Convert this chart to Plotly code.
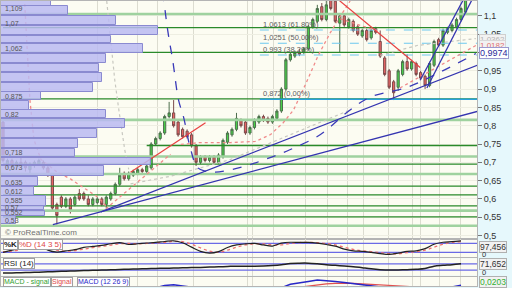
import plotly.graph_objects as go

# ---------------- data ----------------
idx = list(range(104))
opens = [0.81, 0.695, 0.705, 0.69, 0.70, 0.70, 0.68, 0.695, 0.695, 0.70,
         0.685, 0.665, 0.585, 0.605, 0.58, 0.60, 0.585, 0.615, 0.615, 0.60,
         0.585, 0.59, 0.60, 0.585, 0.60, 0.615, 0.64, 0.67, 0.655, 0.665,
         0.67, 0.68, 0.675, 0.685, 0.75, 0.765, 0.78, 0.825, 0.835, 0.81,
         0.79, 0.785, 0.775, 0.745, 0.70, 0.715, 0.705, 0.715, 0.70, 0.715,
         0.755, 0.775, 0.79, 0.815, 0.81, 0.78, 0.795, 0.81, 0.825, 0.82,
         0.81, 0.82, 0.84, 0.90, 0.98, 0.99, 1.0, 1.0, 1.01, 1.07,
         1.085, 1.125, 1.09, 1.15, 1.14, 1.08, 1.10, 1.07, 1.085, 1.07,
         1.045, 1.06, 1.04, 1.065, 1.03, 0.985, 0.95, 0.92, 0.905, 0.94,
         0.975, 0.955, 0.97, 0.945, 0.935, 0.91, 0.965, 1.035, 1.02, 1.055,
         1.06, 1.07, 1.09, 1.11]
highs = [0.82, 0.71, 0.71, 0.705, 0.712, 0.705, 0.70, 0.705, 0.71, 0.705,
         0.69, 0.67, 0.59, 0.61, 0.605, 0.605, 0.61, 0.627, 0.62, 0.61,
         0.605, 0.605, 0.605, 0.61, 0.62, 0.645, 0.685, 0.675, 0.675, 0.68,
         0.685, 0.685, 0.695, 0.755, 0.77, 0.785, 0.83, 0.865, 0.87, 0.815,
         0.795, 0.79, 0.78, 0.75, 0.72, 0.72, 0.72, 0.72, 0.725, 0.765,
         0.785, 0.795, 0.835, 0.82, 0.815, 0.80, 0.82, 0.83, 0.83, 0.825,
         0.83, 0.845, 0.905, 0.985, 1.0, 1.005, 1.01, 1.015, 1.075, 1.095,
         1.13, 1.135, 1.15, 1.16, 1.15, 1.105, 1.105, 1.095, 1.09, 1.075,
         1.065, 1.065, 1.065, 1.07, 1.06, 0.99, 0.955, 0.925, 0.955, 0.98,
         0.995, 0.98, 0.975, 0.95, 0.94, 0.975, 1.035, 1.04, 1.065, 1.07,
         1.08, 1.095, 1.125, 1.16]
lows = [0.70, 0.685, 0.685, 0.68, 0.69, 0.675, 0.665, 0.685, 0.69, 0.68,
        0.66, 0.565, 0.53, 0.575, 0.575, 0.56, 0.58, 0.595, 0.595, 0.58,
        0.58, 0.585, 0.58, 0.575, 0.595, 0.61, 0.635, 0.65, 0.65, 0.66,
        0.665, 0.67, 0.67, 0.68, 0.745, 0.76, 0.775, 0.82, 0.795, 0.77,
        0.765, 0.765, 0.74, 0.69, 0.695, 0.70, 0.70, 0.695, 0.695, 0.71,
        0.75, 0.77, 0.785, 0.795, 0.775, 0.775, 0.79, 0.805, 0.81, 0.805,
        0.805, 0.815, 0.835, 0.895, 0.975, 0.985, 0.99, 0.995, 1.005, 1.065,
        1.08, 1.085, 1.085, 1.115, 1.08, 1.0, 1.07, 1.065, 1.055, 1.045,
        1.04, 1.03, 1.035, 1.05, 0.985, 0.935, 0.90, 0.87, 0.895, 0.935,
        0.95, 0.95, 0.935, 0.925, 0.90, 0.905, 0.96, 1.015, 1.015, 1.05,
        1.055, 1.065, 1.085, 1.105]
closes = [0.705, 0.705, 0.69, 0.70, 0.695, 0.685, 0.695, 0.70, 0.705, 0.685,
          0.665, 0.575, 0.555, 0.58, 0.60, 0.57, 0.605, 0.60, 0.60, 0.585,
          0.60, 0.60, 0.585, 0.605, 0.615, 0.64, 0.665, 0.655, 0.67, 0.675,
          0.68, 0.675, 0.69, 0.75, 0.765, 0.78, 0.825, 0.835, 0.80, 0.775,
          0.77, 0.77, 0.745, 0.70, 0.715, 0.705, 0.715, 0.70, 0.72, 0.76,
          0.78, 0.79, 0.82, 0.80, 0.78, 0.795, 0.815, 0.825, 0.815, 0.81,
          0.825, 0.84, 0.90, 0.98, 0.995, 1.0, 0.995, 1.01, 1.07, 1.09,
          1.12, 1.09, 1.13, 1.12, 1.085, 1.10, 1.075, 1.09, 1.06, 1.05,
          1.06, 1.035, 1.06, 1.055, 0.99, 0.94, 0.905, 0.89, 0.95, 0.975,
          0.955, 0.975, 0.94, 0.93, 0.91, 0.97, 1.03, 1.02, 1.06, 1.065,
          1.075, 1.09, 1.12, 1.15]

# volume-by-price profile (bin edges in price, volume per bin)
vp_edges = [1.14, 1.127, 1.100, 1.073, 1.046, 1.024, 0.997, 0.970, 0.946,
            0.919, 0.892, 0.868, 0.843, 0.819, 0.792, 0.765, 0.738, 0.714,
            0.692, 0.662, 0.635, 0.608, 0.581, 0.568, 0.554, 0.532]
vp_volume = [50, 67, 115, 157, 110, 142, 105, 98, 101, 92, 40, 28, 105, 124,
             96, 77, 74, 150, 103, 37, 33, 45, 43, 44, 15]
vp_label_text = ["1,109", "1,07", "1,062", "0,875", "0,82", "0,718", "0,673",
                 "0,635", "0,612", "0,585", "0,57", "0,552", "0,53"]
vp_label_price = [1.119, 1.078, 1.011, 0.881, 0.830, 0.727, 0.686, 0.646,
                  0.619, 0.595, 0.578, 0.562, 0.541]

# horizontal support / resistance levels
levels_dark = [1.068, 1.0, 0.873, 0.746, 0.695, 0.635, 0.611, 0.581, 0.551]
levels_dark_start = [0, 0, 0, 32, 0, 0, 0, 0, 0]
levels_light = [1.105, 0.816, 0.716, 0.668, 0.568, 0.527]

# fibonacci retracement
fib_levels = [1.0613, 1.0251, 0.993]
fib_labels = ["1,0613 (61,80%)", "1,0251 (50,00%)", "0,993 (38,20%)"]
fib_base = 0.872
fib_base_label = "0,872 (0,00%)"
fib_start = 57.2

# trend lines (anchor points: bar index, price)
trend_blue = [([11.1, 105.6], [0.530, 0.839]),
              ([21.8, 105.6], [0.565, 0.965]),
              ([92.9, 103.3], [0.924, 1.162]),
              ([94.4, 105.2], [0.903, 1.162])]
trend_red = [([74.0, 92.9], [1.151, 0.959]),
             ([28.4, 45.1], [0.673, 0.808])]
red_dotted = [([22.9, 37.3], [0.573, 0.722]),
              ([4.7, 5.56, 6.0, 6.89, 8.44, 11.78, 15.1, 18.4, 21.1, 22.9],
               [1.165, 0.978, 0.870, 0.762, 0.708, 0.676, 0.654, 0.627, 0.605, 0.581]),
              ([39.6, 44.0, 50.7, 56.2, 59.6, 62.4, 64.7, 67.3, 70.2, 72.9, 75.6, 77.3],
               [0.749, 0.754, 0.754, 0.757, 0.776, 0.808, 0.843, 0.911, 0.992, 1.054, 1.108, 1.1405]),
              ([75.1, 83.3], [1.092, 1.059]),
              ([88.4, 105.3], [0.903, 1.019])]
blue_dashed_x = [35.6, 36.7, 37.8, 39.1, 40.2, 41.8, 43.3, 45.1, 47.3, 52.9,
                 58.4, 64.0, 70.7, 77.3, 81.8, 90.0, 97.3, 105.3]
blue_dashed_y = [1.165, 1.059, 0.978, 0.870, 0.824, 0.735, 0.686, 0.676, 0.673,
                 0.686, 0.708, 0.735, 0.776, 0.843, 0.878, 0.905, 0.946, 0.997]
gray_dotted = [([23.1, 24.0, 24.9, 25.8, 27.1, 28.0],
                [1.1405, 1.032, 0.924, 0.843, 0.735, 0.681]),
               ([28.4, 37.3, 50.7, 64.0, 77.3], [0.641, 0.662, 0.708, 0.776, 0.843]),
               ([84.0, 92.2, 105.3], [0.992, 1.019, 1.038])]

# vertical grid positions (bar index)
vgrid = [21.1, 30.0, 34.4, 42.4, 54.4, 55.6, 60.2, 67.3, 72.2, 76.7, 80.2,
         85.8, 91.3, 92.9, 97.3, 101.8]

# oscillators (every second bar)
osc_idx = list(range(0, 104, 2))
stoch_k = [20, 35, 50, 63, 73, 35, 22, 30, 38, 53, 60, 67, 78, 86, 73, 78, 83,
           87, 93, 98, 85, 55, 27, 15, 25, 53, 70, 77, 80, 70, 62, 82, 88, 87,
           87, 82, 73, 62, 42, 30, 27, 20, 12, 7, 15, 27, 30, 45, 75, 88, 92, 97]
stoch_d = [25, 28, 40, 52, 63, 55, 35, 28, 32, 42, 52, 60, 68, 78, 80, 78, 80,
           84, 88, 94, 92, 75, 50, 28, 20, 35, 55, 70, 77, 77, 70, 70, 80, 86,
           87, 85, 80, 70, 55, 40, 30, 25, 18, 12, 10, 18, 25, 35, 55, 75, 87, 93]
rsi = [11, 12, 13, 15, 17, 19, 21, 23, 25, 27, 29, 30, 32, 34, 36, 37, 39, 40,
       42, 43, 45, 46, 47, 49, 51, 53, 55, 55, 55, 56, 59, 64, 72, 74, 74, 70,
       64, 60, 56, 52, 45, 38, 33, 30, 31, 33, 35, 40, 55, 60, 64, 70]
macd = [-0.02, -0.018, -0.015, -0.012, -0.01, -0.015, -0.03, -0.035, -0.033, -0.03,
        -0.025, -0.02, -0.012, 0.0, 0.01, 0.018, 0.025, 0.035, 0.048, 0.052,
        0.045, 0.035, 0.02, 0.008, 0.005, 0.012, 0.02, 0.022, 0.025, 0.026,
        0.027, 0.035, 0.055, 0.065, 0.072, 0.08, 0.078, 0.072, 0.065, 0.055,
        0.048, 0.04, 0.028, 0.015, 0.01, 0.012, 0.01, 0.008, 0.018, 0.03, 0.04, 0.05]
macd_signal = [-0.015, -0.016, -0.016, -0.015, -0.014, -0.014, -0.017, -0.021, -0.024, -0.025,
               -0.025, -0.024, -0.021, -0.017, -0.011, -0.005, 0.002, 0.01, 0.018, 0.026,
               0.031, 0.033, 0.031, 0.026, 0.021, 0.018, 0.018, 0.019, 0.02, 0.021,
               0.022, 0.025, 0.031, 0.038, 0.045, 0.052, 0.057, 0.06, 0.061, 0.06,
               0.058, 0.054, 0.049, 0.042, 0.035, 0.03, 0.026, 0.022, 0.021, 0.023,
               0.027, 0.032]
stoch_bands = [80, 20]
rsi_bands = [70, 30]

# ---------------- figure ----------------
W, H = 512, 288
PW = 477
XR = [-0.444, 105.56]
FONT = "Liberation Sans"

fig = go.Figure()

# volume profile
centers = [(vp_edges[k] + vp_edges[k + 1]) / 2 for k in range(len(vp_volume))]
heights = [(vp_edges[k] - vp_edges[k + 1]) * 0.92 for k in range(len(vp_volume))]
fig.add_trace(go.Bar(x=vp_volume, y=centers, width=heights, orientation="h",
                     xaxis="x2", yaxis="y",
                     marker=dict(color="rgba(186,186,242,0.85)",
                                 line=dict(color="#8a8ad0", width=1)),
                     hoverinfo="skip", showlegend=False))


def hlines(levels, starts=None):
    xs, ys = [], []
    for k, lv in enumerate(levels):
        s = starts[k] if starts else XR[0]
        xs += [s, XR[1], None]
        ys += [lv, lv, None]
    return xs, ys


x, y = hlines(levels_light)
fig.add_trace(go.Scatter(x=x, y=y, mode="lines", line=dict(color="#9fd29f", width=2.6),
                         hoverinfo="skip", showlegend=False))
x, y = hlines(levels_dark, levels_dark_start)
fig.add_trace(go.Scatter(x=x, y=y, mode="lines", line=dict(color="#2a8a2a", width=1.3),
                         hoverinfo="skip", showlegend=False))

# fibonacci
x, y = hlines(fib_levels, [fib_start] * len(fib_levels))
fig.add_trace(go.Scatter(x=x, y=y, mode="lines",
                         line=dict(color="#6cc8f0", width=1.2, dash="dash"),
                         hoverinfo="skip", showlegend=False))
fig.add_trace(go.Scatter(x=[fib_start, XR[1]], y=[fib_base, fib_base], mode="lines",
                         line=dict(color="#2aa0dc", width=1.5),
                         hoverinfo="skip", showlegend=False))

# candles
fig.add_trace(go.Candlestick(x=idx, open=opens, high=highs, low=lows, close=closes,
                             increasing=dict(fillcolor="#48d048", line=dict(color="#4d6e4d", width=1)),
                             decreasing=dict(fillcolor="#ea6464", line=dict(color="#7a4a4a", width=1)),
                             whiskerwidth=0, xaxis="x", yaxis="y",
                             hoverinfo="skip", showlegend=False))

# dotted / dashed indicators
for gx, gy in gray_dotted:
    fig.add_trace(go.Scatter(x=gx, y=gy, mode="lines",
                             line=dict(color="#c8c8c0", width=1.2, dash="dot"),
                             hoverinfo="skip", showlegend=False))
for rx, ry in red_dotted:
    fig.add_trace(go.Scatter(x=rx, y=ry, mode="lines",
                             line=dict(color="#f08a8a", width=1.3, dash="dot"),
                             hoverinfo="skip", showlegend=False))
fig.add_trace(go.Scatter(x=blue_dashed_x, y=blue_dashed_y, mode="lines", line_shape="spline",
                         line=dict(color="#3a3ab8", width=1.3, dash="dash"),
                         hoverinfo="skip", showlegend=False))
for tx, ty in trend_red:
    fig.add_trace(go.Scatter(x=tx, y=ty, mode="lines", line=dict(color="#e84040", width=1.2),
                             hoverinfo="skip", showlegend=False))
for tx, ty in trend_blue:
    fig.add_trace(go.Scatter(x=tx, y=ty, mode="lines", line=dict(color="#3434b0", width=1.3),
                             hoverinfo="skip", showlegend=False))

# stochastic
for b in stoch_bands:
    fig.add_trace(go.Scatter(x=XR, y=[b, b], mode="lines", xaxis="x3", yaxis="y3",
                             line=dict(color="#6a6ae6", width=1.3),
                             hoverinfo="skip", showlegend=False))
fig.add_trace(go.Scatter(x=osc_idx, y=stoch_d, mode="lines", xaxis="x3", yaxis="y3",
                         line=dict(color="#ee7070", width=1.3, dash="dot"), line_shape="spline",
                         hoverinfo="skip", showlegend=False))
fig.add_trace(go.Scatter(x=osc_idx, y=stoch_k, mode="lines", xaxis="x3", yaxis="y3",
                         line=dict(color="#222222", width=1.2), line_shape="spline",
                         hoverinfo="skip", showlegend=False))

# RSI
for b in rsi_bands:
    fig.add_trace(go.Scatter(x=XR, y=[b, b], mode="lines", xaxis="x4", yaxis="y4",
                             line=dict(color="#6a6ae6", width=1.3),
                             hoverinfo="skip", showlegend=False))
fig.add_trace(go.Scatter(x=osc_idx, y=rsi, mode="lines", xaxis="x4", yaxis="y4",
                         line=dict(color="#222222", width=1.5), line_shape="spline",
                         hoverinfo="skip", showlegend=False))

# MACD
fig.add_trace(go.Scatter(x=osc_idx, y=macd_signal, mode="lines", xaxis="x5", yaxis="y5",
                         line=dict(color="#e05050", width=1.2),
                         hoverinfo="skip", showlegend=False))
fig.add_trace(go.Scatter(x=osc_idx, y=macd, mode="lines", xaxis="x5", yaxis="y5",
                         line=dict(color="#2828c8", width=1.5),
                         hoverinfo="skip", showlegend=False))


def py(px):
    return 1 - px / H


grid = "#dcdcd0"
frame = "#b4b4b4"
common_x = dict(range=XR, tickvals=vgrid, showticklabels=False, showgrid=True,
                gridcolor=grid, zeroline=False, showline=True, linecolor=frame,
                mirror=True, ticks="")

annotations = []
# volume profile labels
for t, p in zip(vp_label_text, vp_label_price):
    annotations.append(dict(x=0.004, xref="paper", y=p, yref="y", text=t, showarrow=False,
                            xanchor="left", yanchor="middle",
                            font=dict(family=FONT, size=7, color="#555555")))
# fib labels
for t, p in zip(fib_labels + [fib_base_label], fib_levels + [fib_base]):
    annotations.append(dict(x=fib_start + 0.3, xref="x", y=p, yref="y", text=t, showarrow=False,
                            xanchor="left", yanchor="bottom", yshift=-1,
                            font=dict(family=FONT, size=7.5, color="#606060")))
# right-side value boxes
annotations += [
    dict(x=1.004, xref="paper", y=1.0362, yref="y", text="1,0362", showarrow=False,
         xanchor="left", yanchor="middle", bgcolor="#f2f2f2", bordercolor="#cfcfcf",
         borderpad=0, font=dict(family=FONT, size=8, color="#b4b4b4")),
    dict(x=1.004, xref="paper", y=1.0182, yref="y", text="1,0182", showarrow=False,
         xanchor="left", yanchor="middle", bgcolor="#f2f2f2", bordercolor="#d8d8d8",
         borderpad=0, font=dict(family=FONT, size=8, color="#e07070")),
    dict(x=1.004, xref="paper", y=0.9974, yref="y", text="0,9974", showarrow=False,
         xanchor="left", yanchor="middle", bgcolor="#ffffff", bordercolor="#9a9ad0",
         borderpad=0, font=dict(family=FONT, size=9, color="#2a2a9a")),
    dict(x=1.004, xref="paper", y=py(249), yref="paper", text="97,456", showarrow=False,
         xanchor="left", yanchor="middle", bgcolor="#f2f2f2", bordercolor="#b0b0b0",
         borderpad=0, font=dict(family=FONT, size=8.5, color="#333333")),
    dict(x=1.006, xref="paper", y=py(256.5), yref="paper", text="0", showarrow=False,
         xanchor="left", yanchor="middle", font=dict(family=FONT, size=7.5, color="#333333")),
    dict(x=1.004, xref="paper", y=py(266), yref="paper", text="71,652", showarrow=False,
         xanchor="left", yanchor="middle", bgcolor="#f2f2f2", bordercolor="#b0b0b0",
         borderpad=0, font=dict(family=FONT, size=8.5, color="#333333")),
    dict(x=1.006, xref="paper", y=py(274), yref="paper", text="0", showarrow=False,
         xanchor="left", yanchor="middle", font=dict(family=FONT, size=7.5, color="#333333")),
    dict(x=1.004, xref="paper", y=py(284), yref="paper", text="0,0203", showarrow=False,
         xanchor="left", yanchor="middle", bgcolor="#f2f2f2", bordercolor="#b0b0b0",
         borderpad=0, font=dict(family=FONT, size=8.5, color="#30b030")),
    # panel captions
    dict(x=2 / PW, xref="paper", y=py(234), yref="paper", text="© ProRealTime.com",
         showarrow=False, xanchor="left", yanchor="middle",
         font=dict(family=FONT, size=8, color="#707070")),
    dict(x=2 / PW, xref="paper", y=py(246), yref="paper", text="<b>%K</b>", showarrow=False,
         xanchor="left", yanchor="middle", bgcolor="#ffffff", bordercolor="#a0a0a0",
         borderpad=0, font=dict(family=FONT, size=8, color="#222222")),
    dict(x=17 / PW, xref="paper", y=py(246), yref="paper", text="%D (14 3 5)", showarrow=False,
         xanchor="left", yanchor="middle", bgcolor="#ffffff", bordercolor="#a0a0a0",
         borderpad=0, font=dict(family=FONT, size=8, color="#e04848")),
    dict(x=2 / PW, xref="paper", y=py(265), yref="paper", text="RSI (14)", showarrow=False,
         xanchor="left", yanchor="middle", bgcolor="#ffffff", bordercolor="#a0a0a0",
         borderpad=0, font=dict(family=FONT, size=8, color="#222222")),
    dict(x=2 / PW, xref="paper", y=py(284), yref="paper", text="MACD - signal", showarrow=False,
         xanchor="left", yanchor="middle", bgcolor="#ffffff", bordercolor="#a0a0a0",
         borderpad=0, font=dict(family=FONT, size=7, color="#30a030")),
    dict(x=50 / PW, xref="paper", y=py(284), yref="paper", text="Signal", showarrow=False,
         xanchor="left", yanchor="middle", bgcolor="#ffffff", bordercolor="#a0a0a0",
         borderpad=0, font=dict(family=FONT, size=7, color="#e04848")),
    dict(x=76 / PW, xref="paper", y=py(284), yref="paper", text="MACD (12 26 9)", showarrow=False,
         xanchor="left", yanchor="middle", bgcolor="#ffffff", bordercolor="#a0a0a0",
         borderpad=0, font=dict(family=FONT, size=7, color="#2828c8")),
]

fig.update_layout(
    width=W, height=H,
    margin=dict(l=0, r=W - PW, t=0, b=0),
    paper_bgcolor="#e6f8fc",
    plot_bgcolor="#fcfcf2",
    separators=", ",
    showlegend=False,
    font=dict(family=FONT, size=9, color="#333333"),
    bargap=0,
    xaxis=dict(domain=[0, 1], anchor="y", rangeslider=dict(visible=False), **common_x),
    xaxis2=dict(overlaying="x", anchor="y", range=[0, PW], visible=False),
    yaxis=dict(domain=[py(240), 1], anchor="x", range=[0.492, 1.1405], side="right",
               dtick=0.05, tick0=0.5, ticks="outside", ticklen=4, tickcolor="#777777",
               tickfont=dict(family=FONT, size=9, color="#333333"),
               showgrid=True, gridcolor="#eeeee2", zeroline=False,
               showline=True, linecolor=frame, mirror=True),
    xaxis3=dict(anchor="y3", **common_x),
    yaxis3=dict(domain=[py(259), py(241)], anchor="x3", range=[-13.3, 106.7], side="right",
                showticklabels=False, showgrid=False, zeroline=False,
                showline=True, linecolor=frame, mirror=True),
    xaxis4=dict(anchor="y4", **common_x),
    yaxis4=dict(domain=[py(277.5), py(260)], anchor="x4", range=[-5, 105], side="right",
                showticklabels=False, showgrid=False, zeroline=False,
                showline=True, linecolor=frame, mirror=True),
    xaxis5=dict(anchor="y5", **common_x),
    yaxis5=dict(domain=[0, py(278.5)], anchor="x5", range=[0.045, 0.1], side="right",
                showticklabels=False, showgrid=False, zeroline=False,
                showline=True, linecolor=frame, mirror=True),
    annotations=annotations,
)

fig.write_html("out.html")
